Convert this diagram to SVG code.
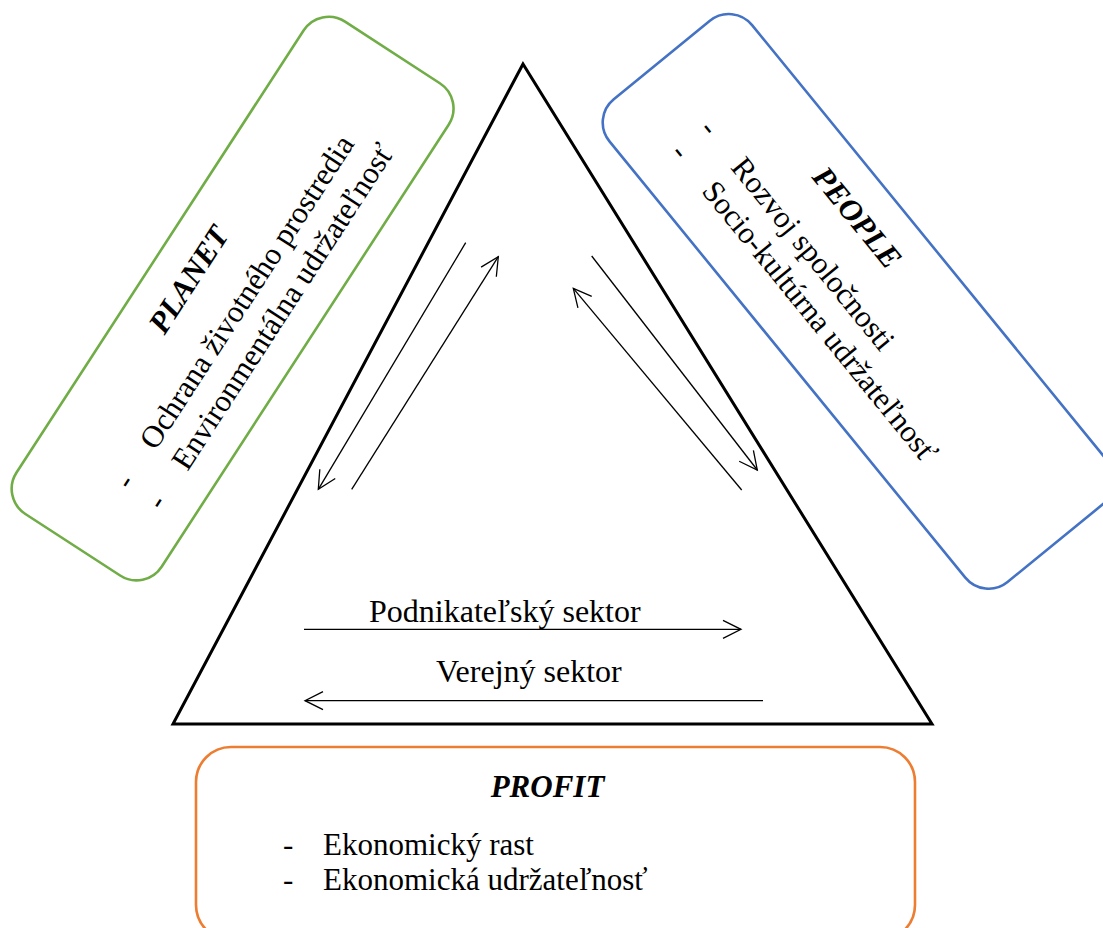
<svg xmlns="http://www.w3.org/2000/svg" width="1103" height="928" viewBox="0 0 1103 928">
<style>
text{font-family:'Liberation Serif',serif;font-size:31px;fill:#000}
.h{font-weight:bold;font-style:italic}
.s{font-size:32px}
.box{fill:#fff;stroke-width:2.6}
.conn{stroke:#000;stroke-width:1.3;fill:none}
</style>
<defs>
<marker id="ah" viewBox="-20 -11 22 22" refX="0" refY="0" markerWidth="22" markerHeight="22" markerUnits="userSpaceOnUse" orient="auto">
<path d="M-18,-9 L0,0 L-18,9" fill="none" stroke="#000" stroke-width="1.3"/>
</marker>
</defs>
<rect width="1103" height="928" fill="#fff"/>
<g font-family="Liberation Serif" font-size="31">
<g id="planet" transform="translate(232.6,298.6) rotate(-57)">
<rect class="box" x="-293.5" y="-86.5" width="587" height="173" rx="30" stroke="#70AD47"/>
<text class="h" x="-8" y="-37" text-anchor="middle">PLANET</text>
<text x="-217" y="18.5">-</text>
<text x="-170" y="18.5">Ochrana životného prostredia</text>
<text x="-217" y="56.5">-</text>
<text x="-170" y="56.5">Environmentálna udržateľnosť</text>
</g>
<g id="people" transform="translate(858.7,301.4) rotate(50.8)">
<rect class="box" x="-311.5" y="-92" width="623" height="184" rx="30" stroke="#4472C4"/>
<text class="h" x="-66" y="-41.5" text-anchor="middle">PEOPLE</text>
<text x="-234" y="15.5">-</text>
<text x="-185" y="15.5">Rozvoj spoločnosti</text>
<text x="-234" y="53">-</text>
<text x="-185" y="53">Socio-kultúrna udržateľnosť</text>
</g>
<g id="triangle">
<polygon points="523,64 173,724 932,724" fill="none" stroke="#000" stroke-width="3" stroke-linejoin="miter"/>
</g>
<g id="profit">
<rect class="box" x="196" y="747" width="719" height="193" rx="35" stroke="#ED7D31"/>
<text class="h" x="547.5" y="797" text-anchor="middle">PROFIT</text>
<text x="283" y="855">-</text>
<text x="323" y="855">Ekonomický rast</text>
<text x="283" y="890">-</text>
<text x="323" y="890">Ekonomická udržateľnosť</text>
</g>
<g id="labels">
<text class="s" x="369" y="621.5">Podnikateľský sektor</text>
<text class="s" x="436" y="682.3">Verejný sektor</text>
</g>
</g>
<g id="connectors">
<line class="conn" x1="304" y1="629.3" x2="741" y2="629.3" marker-end="url(#ah)"/>
<line class="conn" x1="763" y1="700.7" x2="305" y2="700.7" marker-end="url(#ah)"/>
<line class="conn" x1="465.7" y1="242.7" x2="318.3" y2="489.3" marker-end="url(#ah)"/>
<line class="conn" x1="351.7" y1="489.3" x2="498.3" y2="256.7" marker-end="url(#ah)"/>
<line class="conn" x1="591.7" y1="256" x2="757.3" y2="470" marker-end="url(#ah)"/>
<line class="conn" x1="741.7" y1="490" x2="573.3" y2="288.3" marker-end="url(#ah)"/>
</g>
</svg>
